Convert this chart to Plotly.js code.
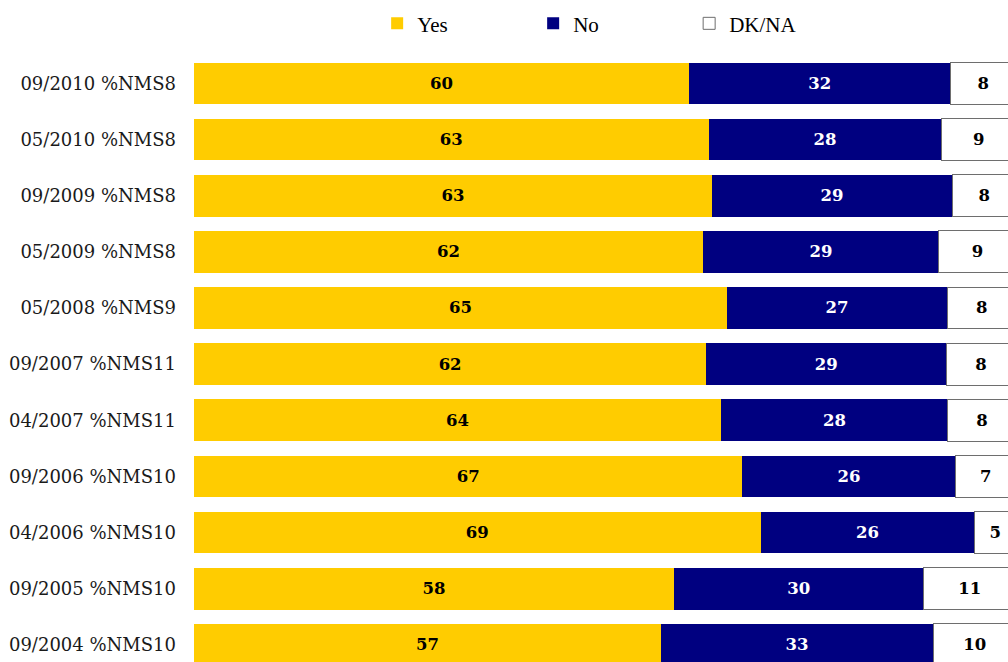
<!DOCTYPE html>
<html>
<head>
<meta charset="utf-8">
<script src="https://cdn.plot.ly/plotly-3.0.1.min.js"></script>
<style>html,body{margin:0;padding:0;background:#fff;}</style>
</head>
<body>
<div id="chart" style="width:1008px;height:662px;"></div>
<script>
const categories = [
  "09/2010 %NMS8", "05/2010 %NMS8", "09/2009 %NMS8", "05/2009 %NMS8",
  "05/2008 %NMS9", "09/2007 %NMS11", "04/2007 %NMS11", "09/2006 %NMS10",
  "04/2006 %NMS10", "09/2005 %NMS10", "09/2004 %NMS10"
];
const yesValues = [60.2, 62.6, 63.0, 61.9, 64.8, 62.3, 64.1, 66.7, 68.9, 58.4, 56.8];
const noValues  = [31.8, 28.3, 29.2, 28.7, 26.8, 29.2, 27.6, 25.9, 26.0, 30.3, 33.1];
const dkValues  = [8.0, 9.1, 7.8, 9.4, 8.4, 8.4, 8.3, 7.4, 5.1, 11.3, 10.1];

const labelFont = "DejaVu Serif, Georgia, serif";

function barTrace(name, vals, color, textColor, lineColor) {
  return {
    type: "bar",
    orientation: "h",
    name: name,
    x: vals,
    y: categories,
    text: vals.map(v => String(Math.round(v))),
    textposition: "inside",
    insidetextanchor: "middle",
    constraintext: "none",
    textfont: {family: labelFont, size: 16.5, weight: "bold", color: textColor},
    marker: {color: color, line: {color: lineColor, width: lineColor ? 1 : 0}},
    hoverinfo: "skip"
  };
}

const data = [
  barTrace("Yes", yesValues, "#FFCC00", "#000000", null),
  barTrace("No", noValues, "#000080", "#FFFFFF", null),
  barTrace("DK/NA", dkValues, "#FFFFFF", "#000000", "#6E6E6E")
];

const layout = {
  width: 1008,
  height: 662,
  barmode: "stack",
  bargap: 0.256,
  margin: {l: 194, r: 0, t: 50, b: 0, pad: 0},
  paper_bgcolor: "#FFFFFF",
  plot_bgcolor: "#FFFFFF",
  showlegend: true,
  legend: {
    orientation: "h",
    x: 0.225,
    xanchor: "left",
    y: 1.043,
    yanchor: "middle",
    entrywidth: 111,
    traceorder: "normal",
    font: {family: "Liberation Serif, Times New Roman, serif", size: 21, color: "#000"},
    bgcolor: "rgba(0,0,0,0)"
  },
  xaxis: {
    range: [0, 99.0],
    visible: false,
    showgrid: false,
    zeroline: false,
    fixedrange: true
  },
  yaxis: {
    type: "category",
    range: [10.305, -0.595],
    showgrid: false,
    zeroline: false,
    showline: false,
    ticks: "",
    ticklabelstandoff: 17,
    tickfont: {family: labelFont, size: 18, color: "#1a1a1a"},
    fixedrange: true
  }
};

Plotly.newPlot("chart", data, layout, {displayModeBar: false, staticPlot: true});
</script>
</body>
</html>
